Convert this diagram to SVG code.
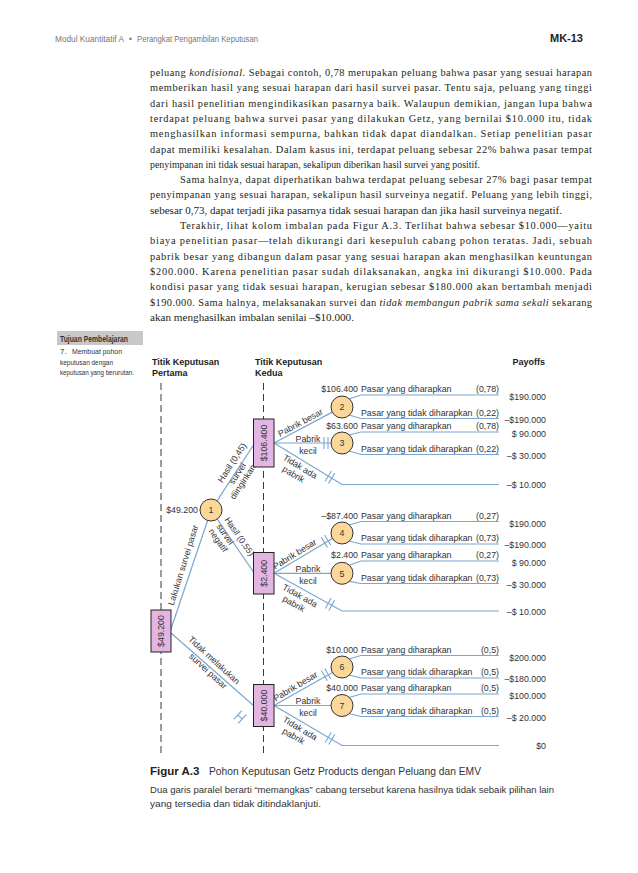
<svg xmlns="http://www.w3.org/2000/svg" xmlns:xlink="http://www.w3.org/1999/xlink" width="638" height="873" viewBox="0 0 638 873">
<style>
.para{font-family:"Liberation Serif","Times New Roman",serif;font-size:10.4px;fill:#231f20}
.it{font-style:italic}
.hdr{font-family:"Liberation Sans",Arial,sans-serif;font-size:8.3px;fill:#777}
.side{font-family:"Liberation Sans",Arial,sans-serif;font-size:8px;fill:#333}
.lbl{font-family:"Liberation Sans",Arial,sans-serif;font-size:8.8px;fill:#333}
.col{font-family:"Liberation Sans",Arial,sans-serif;font-size:9px;font-weight:bold;fill:#222}
.cap{font-family:"Liberation Sans",Arial,sans-serif;fill:#333}
.br{stroke:#7aa6cf;stroke-width:1.2;fill:none}
.cut{stroke:#7aa6cf;stroke-width:1.1;fill:none}
.dash{stroke:#222;stroke-width:0.9;stroke-dasharray:7 4;fill:none}
.dec{fill:#e3b5e3;stroke:#222;stroke-width:1}
.chn{fill:#fbd89a;stroke:#333;stroke-width:1}
.end{text-anchor:end}
.mid{text-anchor:middle}
</style>
<defs>
<g id="cutmark"><line class="cut" x1="-2" y1="-6" x2="-2" y2="6"/><line class="cut" x1="2" y1="-6" x2="2" y2="6"/></g>
<g id="cutH"><line class="cut" x1="-3" y1="-6" x2="-3" y2="6"/><line class="cut" x1="3" y1="-6" x2="3" y2="6"/><line class="cut" x1="-3" y1="0" x2="3" y2="0"/></g>
</defs>
<rect width="638" height="873" fill="#ffffff"/>

<g id="header">
<text class="hdr" x="55" y="42" textLength="69" lengthAdjust="spacingAndGlyphs">Modul Kuantitatif A</text>
<text class="hdr" x="129" y="42">•</text>
<text class="hdr" x="137" y="42" textLength="121" lengthAdjust="spacingAndGlyphs">Perangkat Pengambilan Keputusan</text>
<text x="583" y="42" class="end" style="font-family:'Liberation Sans',Arial,sans-serif;font-size:11px;font-weight:bold;fill:#222">MK-13</text>
</g>

<g id="body-text">
<text class="para" x="150" y="76" textLength="442" lengthAdjust="spacing">peluang <tspan class="it">kondisional</tspan>. Sebagai contoh, 0,78 merupakan peluang bahwa pasar yang sesuai harapan</text>
<text class="para" x="150" y="91.3" textLength="442" lengthAdjust="spacing">memberikan hasil yang sesuai harapan dari hasil survei pasar. Tentu saja, peluang yang tinggi</text>
<text class="para" x="150" y="106.6" textLength="442" lengthAdjust="spacing">dari hasil penelitian mengindikasikan pasarnya baik. Walaupun demikian, jangan lupa bahwa</text>
<text class="para" x="150" y="121.9" textLength="442" lengthAdjust="spacing">terdapat peluang bahwa survei pasar yang dilakukan Getz, yang bernilai $10.000 itu, tidak</text>
<text class="para" x="150" y="137.2" textLength="442" lengthAdjust="spacing">menghasilkan informasi sempurna, bahkan tidak dapat diandalkan. Setiap penelitian pasar</text>
<text class="para" x="150" y="152.5" textLength="442" lengthAdjust="spacing">dapat memiliki kesalahan. Dalam kasus ini, terdapat peluang sebesar 22% bahwa pasar tempat</text>
<text class="para" x="150" y="167.8" textLength="330" lengthAdjust="spacingAndGlyphs">penyimpanan ini tidak sesuai harapan, sekalipun diberikan hasil survei yang positif.</text>
<text class="para" x="180" y="183.1" textLength="412" lengthAdjust="spacing">Sama halnya, dapat diperhatikan bahwa terdapat peluang sebesar 27% bagi pasar tempat</text>
<text class="para" x="150" y="198.4" textLength="442" lengthAdjust="spacing">penyimpanan yang sesuai harapan, sekalipun hasil surveinya negatif. Peluang yang lebih tinggi,</text>
<text class="para" x="150" y="213.7" textLength="412" lengthAdjust="spacingAndGlyphs">sebesar 0,73, dapat terjadi jika pasarnya tidak sesuai harapan dan jika hasil surveinya negatif.</text>
<text class="para" x="180" y="229" textLength="412" lengthAdjust="spacing">Terakhir, lihat kolom imbalan pada Figur A.3. Terlihat bahwa sebesar $10.000—yaitu</text>
<text class="para" x="150" y="244.3" textLength="442" lengthAdjust="spacing">biaya penelitian pasar—telah dikurangi dari kesepuluh cabang pohon teratas. Jadi, sebuah</text>
<text class="para" x="150" y="259.6" textLength="442" lengthAdjust="spacing">pabrik besar yang dibangun dalam pasar yang sesuai harapan akan menghasilkan keuntungan</text>
<text class="para" x="150" y="274.9" textLength="442" lengthAdjust="spacing">$200.000. Karena penelitian pasar sudah dilaksanakan, angka ini dikurangi $10.000. Pada</text>
<text class="para" x="150" y="290.2" textLength="442" lengthAdjust="spacing">kondisi pasar yang tidak sesuai harapan, kerugian sebesar $180.000 akan bertambah menjadi</text>
<text class="para" x="150" y="305.5" textLength="442" lengthAdjust="spacing">$190.000. Sama halnya, melaksanakan survei dan <tspan class="it">tidak membangun pabrik sama sekali</tspan> sekarang</text>
<text class="para" x="150" y="320.8" textLength="204" lengthAdjust="spacingAndGlyphs">akan menghasilkan imbalan senilai –$10.000.</text>
</g>

<g id="sidebar">
<rect x="57" y="331" width="86" height="14" fill="#c8c8c8"/>
<text class="side" x="60" y="341.5" textLength="68" lengthAdjust="spacingAndGlyphs" style="font-weight:bold;font-size:8.5px">Tujuan Pembelajaran</text>
<text class="side" x="60" y="354">7.</text>
<text class="side" x="72" y="354" textLength="50" lengthAdjust="spacingAndGlyphs">Membuat pohon</text>
<text class="side" x="60" y="364.5" textLength="53" lengthAdjust="spacingAndGlyphs">keputusan dengan</text>
<text class="side" x="60" y="375" textLength="74" lengthAdjust="spacingAndGlyphs">keputusan yang berurutan.</text>
</g>

<g id="column-headers">
<text class="col" x="152" y="365">Titik Keputusan</text>
<text class="col" x="152" y="376">Pertama</text>
<text class="col" x="255" y="365">Titik Keputusan</text>
<text class="col" x="255" y="376">Kedua</text>
<text class="col end" x="545" y="365">Payoffs</text>
</g>

<g id="stage-lines">
<line class="dash" x1="161" y1="383" x2="161" y2="757"/>
<line class="dash" x1="263.5" y1="383" x2="263.5" y2="757"/>
</g>

<g id="connectors">
<path class="br" d="M171,629 L207.6,520.5"/>
<path class="br" d="M171,633 L253.5,705.5"/>
<path class="br" d="M217,500.8 L253.5,445"/>
<path class="br" d="M217.2,519.1 L253.5,572"/>
<path class="br" d="M274,443 L332.3,412.1"/>
<path class="br" d="M274,443 L331,443"/>
<path class="br" d="M274,443 L342,484.5 H499"/>
<path class="br" d="M274,573.3 L332.5,538.6"/>
<path class="br" d="M274,573.3 L331,573.3"/>
<path class="br" d="M274,573.3 L342,611 H499"/>
<path class="br" d="M274,705.5 L332.4,672.4"/>
<path class="br" d="M274,705.5 L331,705.5"/>
<path class="br" d="M274,705.5 L342,745.5 H499"/>
<path class="br" d="M349,399 L361,395 H499 M349,415 L361,418.5 H499"/>
<path class="br" d="M349,435 L361,432 H499 M349,451 L361,454.5 H499"/>
<path class="br" d="M349,525 L361,521.5 H499 M349,541 L361,544 H499"/>
<path class="br" d="M349,565.3 L361,561 H499 M349,581.3 L361,583.5 H499"/>
<path class="br" d="M349,659 L361,655.5 H499 M349,675 L361,678 H499"/>
<path class="br" d="M349,697.5 L361,694 H499 M349,713.5 L361,716.5 H499"/>
<use xlink:href="#cutmark" transform="translate(326,443)"/>
<use xlink:href="#cutmark" transform="translate(330,477.2) rotate(31.4)"/>
<use xlink:href="#cutmark" transform="translate(326,541.2) rotate(-31.7)"/>
<use xlink:href="#cutmark" transform="translate(330,604.3) rotate(29)"/>
<use xlink:href="#cutmark" transform="translate(326,674.6) rotate(-30.7)"/>
<use xlink:href="#cutmark" transform="translate(330,738.4) rotate(30.5)"/>
<use xlink:href="#cutH" transform="translate(240,717) rotate(42.6)"/>
</g>

<g id="edge-labels" class="lbl">
<text transform="translate(186,566) rotate(-72.7)" class="mid">Lakukan survei pasar</text>
<g transform="translate(237,466) rotate(-56.7)">
<text x="0" y="-3" class="mid">Hasil (0,45)</text>
<text x="-6" y="7.5" class="mid">survei</text>
<text x="-10" y="16.5" class="mid">diinginkan</text>
</g>
<g transform="translate(234.5,540) rotate(55.2)">
<text x="0" y="-3" class="mid">Hasil (0,55)</text>
<text x="-10" y="7.5" class="mid">survei</text>
<text x="-9" y="16.5" class="mid">negatif</text>
</g>
<g transform="translate(210,664.5) rotate(42.6)">
<text x="0" y="-3" class="mid">Tidak melakukan</text>
<text x="3" y="9" class="mid">survei pasar</text>
</g>
<text transform="translate(303,427.4) rotate(-28.3)" y="-2.5" class="mid">Pabrik besar</text>
<text transform="translate(297.5,558.8) rotate(-31.7)" y="-2.5" class="mid">Pabrik besar</text>
<text transform="translate(298.3,691) rotate(-30.7)" y="-2.5" class="mid">Pabrik besar</text>
<text x="308" y="442" class="mid">Pabrik</text>
<text x="308" y="454" class="mid">kecil</text>
<text x="308" y="572" class="mid">Pabrik</text>
<text x="308" y="584" class="mid">kecil</text>
<text x="308" y="704" class="mid">Pabrik</text>
<text x="308" y="716" class="mid">kecil</text>
<g transform="translate(303.5,461) rotate(31.4)"><text x="0" y="9.5" class="mid">Tidak ada</text><text x="-1.5" y="19.5" class="mid">pabrik</text></g>
<g transform="translate(303.2,590) rotate(29)"><text x="0" y="9.5" class="mid">Tidak ada</text><text x="-1.5" y="19.5" class="mid">pabrik</text></g>
<g transform="translate(303.3,722.7) rotate(30.5)"><text x="0" y="9.5" class="mid">Tidak ada</text><text x="-1.5" y="19.5" class="mid">pabrik</text></g>
</g>

<g id="outcome-labels" class="lbl">
<text x="358" y="392" class="end">$106.400</text>
<text x="361" y="392">Pasar yang diharapkan</text><text x="499" y="392" class="end">(0,78)</text>
<text x="361" y="415.5">Pasar yang tidak diharapkan</text><text x="499" y="415.5" class="end">(0,22)</text>
<text x="358" y="429" class="end">$63.600</text>
<text x="361" y="429">Pasar yang diharapkan</text><text x="499" y="429" class="end">(0,78)</text>
<text x="361" y="451.5">Pasar yang tidak diharapkan</text><text x="499" y="451.5" class="end">(0,22)</text>
<text x="358" y="518.5" class="end">–$87.400</text>
<text x="361" y="518.5">Pasar yang diharapkan</text><text x="499" y="518.5" class="end">(0,27)</text>
<text x="361" y="541">Pasar yang tidak diharapkan</text><text x="499" y="541" class="end">(0,73)</text>
<text x="358" y="558" class="end">$2.400</text>
<text x="361" y="558">Pasar yang diharapkan</text><text x="499" y="558" class="end">(0,27)</text>
<text x="361" y="580.5">Pasar yang tidak diharapkan</text><text x="499" y="580.5" class="end">(0,73)</text>
<text x="358" y="652.5" class="end">$10.000</text>
<text x="361" y="652.5">Pasar yang diharapkan</text><text x="499" y="652.5" class="end">(0,5)</text>
<text x="361" y="675">Pasar yang tidak diharapkan</text><text x="499" y="675" class="end">(0,5)</text>
<text x="358" y="691" class="end">$40.000</text>
<text x="361" y="691">Pasar yang diharapkan</text><text x="499" y="691" class="end">(0,5)</text>
<text x="361" y="713.5">Pasar yang tidak diharapkan</text><text x="499" y="713.5" class="end">(0,5)</text>
<text x="198" y="513" class="end">$49.200</text>
</g>

<g id="payoffs" class="lbl end">
<text x="546" y="400">$190.000</text>
<text x="546" y="422.5">–$190.000</text>
<text x="546" y="437">$ 90.000</text>
<text x="546" y="458.5">–$ 30.000</text>
<text x="546" y="488">–$ 10.000</text>
<text x="546" y="526.5">$190.000</text>
<text x="546" y="548">–$190.000</text>
<text x="546" y="566">$ 90.000</text>
<text x="546" y="587.5">–$ 30.000</text>
<text x="546" y="614.5">–$ 10.000</text>
<text x="546" y="660.5">$200.000</text>
<text x="546" y="682">–$180.000</text>
<text x="546" y="699">$100.000</text>
<text x="546" y="720.5">–$ 20.000</text>
<text x="546" y="749">$0</text>
</g>

<g id="box-49200"><rect class="dec" x="151" y="610" width="20" height="42"/><text class="lbl mid" transform="translate(161,631) rotate(-90)" dy="3.2">$49.200</text></g>
<g id="box-106400"><rect class="dec" x="253.5" y="419" width="20.5" height="48"/><text class="lbl mid" transform="translate(263.7,443) rotate(-90)" dy="3.2">$106.400</text></g>
<g id="box-2400"><rect class="dec" x="253.5" y="552.5" width="20.5" height="41.5"/><text class="lbl mid" transform="translate(263.7,573.3) rotate(-90)" dy="3.2">$2.400</text></g>
<g id="box-40000"><rect class="dec" x="253.5" y="684.5" width="20.5" height="42"/><text class="lbl mid" transform="translate(263.7,705.5) rotate(-90)" dy="3.2">$40.000</text></g>

<g id="node1"><circle class="chn" cx="211" cy="510" r="11"/><text class="lbl mid" x="211" y="513.2">1</text></g>
<g id="node2"><circle class="chn" cx="342" cy="407" r="11"/><text class="lbl mid" x="342" y="410.2">2</text></g>
<g id="node3"><circle class="chn" cx="342" cy="443" r="11"/><text class="lbl mid" x="342" y="446.2">3</text></g>
<g id="node4"><circle class="chn" cx="342" cy="533" r="11"/><text class="lbl mid" x="342" y="536.2">4</text></g>
<g id="node5"><circle class="chn" cx="342" cy="573.3" r="11"/><text class="lbl mid" x="342" y="576.5">5</text></g>
<g id="node6"><circle class="chn" cx="342" cy="667" r="11"/><text class="lbl mid" x="342" y="670.2">6</text></g>
<g id="node7"><circle class="chn" cx="342" cy="705.5" r="11"/><text class="lbl mid" x="342" y="708.7">7</text></g>

<g id="caption">
<text class="cap" x="150" y="775" style="font-size:11.5px;font-weight:bold;fill:#222">Figur A.3</text>
<text class="cap" x="209" y="775" textLength="272" lengthAdjust="spacingAndGlyphs" style="font-size:10.5px">Pohon Keputusan Getz Products dengan Peluang dan EMV</text>
<text class="cap" x="150" y="793" textLength="404" lengthAdjust="spacingAndGlyphs" style="font-size:9.5px">Dua garis paralel berarti “memangkas” cabang tersebut karena hasilnya tidak sebaik pilihan lain</text>
<text class="cap" x="150" y="807" textLength="171" lengthAdjust="spacingAndGlyphs" style="font-size:9.5px">yang tersedia dan tidak ditindaklanjuti.</text>
</g>
</svg>
